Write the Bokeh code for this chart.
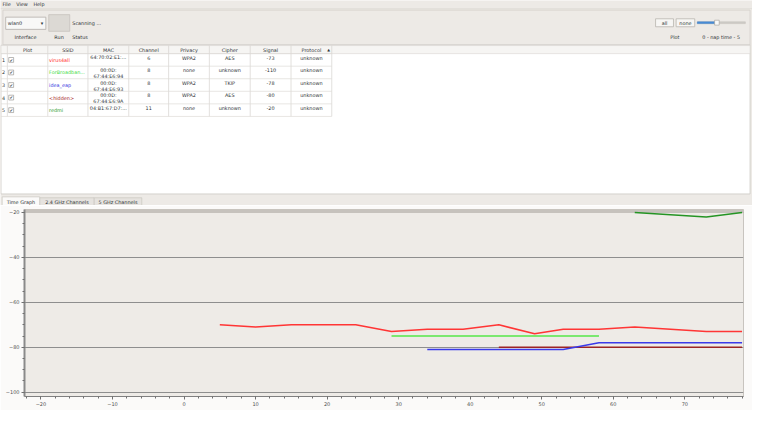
import numpy as np
from bokeh.plotting import figure
from bokeh.models import Range1d, FixedTicker, Span
from bokeh.layouts import column
from bokeh.embed import file_html
from bokeh.resources import INLINE
from bokeh.core.properties import value

# ---------------- data ----------------
menu_items = ["File", "View", "Help"]
interface_name = "wlan0"
status_text = "Scanning ..."
toolbar_labels = ["Interface", "Run", "Status"]
right_buttons = ["all", "none"]
right_labels = ["Plot", "0 - nap time - 5"]

columns_hdr = ["Plot", "SSID", "MAC", "Channel", "Privacy", "Cipher", "Signal", "Protocol"]
row_ids = ["1", "2", "3", "4", "5"]
ssids = ["virus4all", "ForBroadban...", "idea_eap", "<hidden>", "redmi"]
macs = [["64:70:02:E1:..."], ["00:0D:", "67:44:E6:94"], ["00:0D:", "67:44:E6:93"],
        ["00:0D:", "67:44:E6:9A"], ["04:B1:67:D7:..."]]
channels = ["6", "8", "8", "8", "11"]
privacy = ["WPA2", "none", "WPA2", "WPA2", "none"]
cipher = ["AES", "unknown", "TKIP", "AES", "unknown"]
signal = ["-73", "-110", "-78", "-80", "-20"]
protocol = ["unknown", "unknown", "unknown", "unknown", "unknown"]
tab_names = ["Time Graph", "2.4 GHz Channels", "5 GHz Channels"]

# time graph series (time, dBm)
virus_t = [5, 10, 15, 24, 29, 34, 39, 44, 49, 53, 58, 63, 73, 78]
virus_s = [-70, -71, -70, -70, -73, -72, -72, -70, -74, -72, -72, -71, -73, -73]
forb_t = [29, 34, 39, 44, 49, 53, 58]
forb_s = [-75, -75, -75, -75, -75, -75, -75]
idea_t = [34, 39, 44, 49, 53, 58, 63, 68, 73, 78]
idea_s = [-81, -81, -81, -81, -81, -78, -78, -78, -78, -78]
hidden_t = [44, 49, 53, 58, 63, 68, 73, 78]
hidden_s = [-80, -80, -80, -80, -80, -80, -80, -80]
redmi_t = [63, 73, 78]
redmi_s = [-20, -22, -20]

x_ticks = [-20, -10, 0, 10, 20, 30, 40, 50, 60, 70]
y_ticks = [-20, -40, -60, -80, -100]

# ---------------- styles ----------------
FONT = value("DejaVu Sans")
BG = "#edeae6"
PANE = "#fbfaf9"
PLOT_BG = "#eeebe7"
TXT = "#2e3436"
BORDER = "#cdc9c4"
series_colors = ["#ff3535", "#55e84a", "#3a3aea", "#9c2424", "#249424"]
ssid_colors = ["#ff2a2a", "#3ddc3d", "#3434e0", "#a52626", "#2e9e2e"]
FS = "4.9px"

W = 752
TOP_H = 205
BOT_H = 205

# ---------------- top (GUI chrome + table) ----------------
top = figure(width=W, height=TOP_H, x_range=Range1d(0, 768), y_range=Range1d(213, 0),
             output_backend="svg", toolbar_location=None, x_axis_location=None,
             y_axis_location=None, min_border=0)
top.frame_align = False
top.grid.visible = False
top.outline_line_color = None
top.background_fill_color = BG
top.border_fill_color = BG


def txt(fig, xs, ys, texts, align="left", color=TXT, size=FS, baseline="middle"):
    fig.text(x=xs, y=ys, text=texts, text_font=FONT, text_font_size=size,
             text_align=align, text_baseline=baseline, text_color=color)


def box(fig, l, r, t, b, fill, line, lw=0.8):
    fig.quad(left=l, right=r, top=t, bottom=b, fill_color=fill, line_color=line, line_width=lw)


# menu bar
txt(top, [2, 16, 33.6], [3.6, 3.6, 3.6], menu_items)
top.segment(x0=[0], y0=[8.5], x1=[768], y1=[8.5], line_color="#dedad5", line_width=0.8)
# group box
box(top, [2.5], [765.5], [10], [46], BG, "#d3cfca")
# combobox
box(top, [5.3], [46.3], [17.3], [30], "#f8f8f7", "#b3afa9")
txt(top, [7.3], [23.6], [interface_name])
txt(top, [42.5], [23.6], ["\u25be"], align="center", size="5px")
# run button
box(top, [49.3], [70.7], [14.7], [32], "#dcd9d4", "#c6c2bc")
txt(top, [73.3], [23.4], [status_text])
txt(top, [14.3, 55, 73.3], [38.4, 38.4, 38.4], toolbar_labels)
# right side
box(top, [669, 690], [687.3, 709], [19, 19], [27.3, 27.3], "#f7f6f4", "#b9b5af")
txt(top, [678.2, 699.5], [23.2, 23.2], right_buttons, align="center")
box(top, [711.7], [760.7], [22.2], [24], "#cfccc7", "#c0bcb7", 0.5)
box(top, [711.7], [731.5], [22.2], [24], "#4a8fd8", "#3d7fc8", 0.5)
box(top, [729.3], [734], [20.5], [25.6], "#fbfbfa", "#a9a59f", 0.7)
txt(top, [684, 716.7], [38.4, 38.4], right_labels)

# table
box(top, [0.5], [765.5], [46.5], [201], "#ffffff", BORDER)
col_edges = [7, 48.3, 89.3, 131, 171.7, 213.3, 255, 296.7, 338.3]
row_top0 = 55.2
row_h = 13.05
n_rows = len(ssids)
box(top, [0.5], [765.5], [46.8], [row_top0], "#f6f5f3", "#dcd8d3", 0.6)
table_bottom = row_top0 + n_rows * row_h
# vertical separators
top.segment(x0=col_edges, y0=[46.8] * len(col_edges), x1=col_edges,
            y1=[table_bottom] * len(col_edges), line_color="#d6d3ce", line_width=0.7)
# horizontal separators
row_lines = [row_top0 + i * row_h for i in range(n_rows + 1)]
top.segment(x0=[0.5] * len(row_lines), y0=row_lines, x1=[col_edges[-1]] * len(row_lines),
            y1=row_lines, line_color="#dedbd7", line_width=0.7)
centers = [(col_edges[i] + col_edges[i + 1]) / 2 for i in range(len(col_edges) - 1)]
txt(top, centers, [51.4] * len(centers), columns_hdr, align="center")
txt(top, [335], [51.4], ["\u25b2"], align="center", size="3.6px")

row_tops = [row_top0 + i * row_h for i in range(n_rows)]
row_mid = [t + row_h / 2 for t in row_tops]
txt(top, [3] * n_rows, row_mid, row_ids, align="center")
box(top, [8.4] * n_rows, [13.4] * n_rows, [m - 2.5 for m in row_mid], [m + 2.5 for m in row_mid],
    "#ffffff", "#8c8884", 0.6)
txt(top, [10.9] * n_rows, [m + 0.2 for m in row_mid], ["\u2714"] * n_rows, align="center", size="4.2px")
top.text(x=[col_edges[1] + 1.3] * n_rows, y=row_mid, text=ssids, text_font=FONT,
         text_font_size=FS, text_align="left", text_baseline="middle", text_color=ssid_colors)
# MAC (one or two lines)
mx, my, mt = [], [], []
for t, lines in zip(row_tops, macs):
    for j, s in enumerate(lines):
        mx.append(centers[2])
        my.append(t + 3.9 + j * 6.6)
        mt.append(s)
txt(top, mx, my, mt, align="center")
for ci, vals in zip([3, 4, 5, 6, 7], [channels, privacy, cipher, signal, protocol]):
    txt(top, [centers[ci]] * n_rows, [t + 4.3 for t in row_tops], vals, align="center")

# tabs
tab_l = [1.7, 40, 95.7]
tab_r = [40, 95.7, 144.3]
box(top, tab_l[1:], tab_r[1:], [205] * 2, [213.5] * 2, "#e6e3df", "#c9c5bf", 0.7)
box(top, [tab_l[0]], [tab_r[0]], [204], [213.5], PANE, "#c9c5bf", 0.7)
txt(top, [(a + b) / 2 for a, b in zip(tab_l, tab_r)], [209.3, 209.5, 209.5], tab_names, align="center")

# ---------------- bottom (time graph) ----------------
bot = figure(width=W, height=BOT_H, x_range=Range1d(-22.3, 78.2), y_range=Range1d(-101.9, -18.7),
             output_backend="svg", toolbar_location=None,
             min_border_left=24, min_border_right=9, min_border_top=4, min_border_bottom=14)
bot.frame_align = False
bot.background_fill_color = PLOT_BG
bot.border_fill_color = PANE
bot.outline_line_color = "#c8c4bf"

xminor = list(np.arange(-22, 79, 2))
yminor = list(np.arange(-100, -19, 5))
bot.xaxis.ticker = FixedTicker(ticks=x_ticks, minor_ticks=xminor)
bot.yaxis.ticker = FixedTicker(ticks=y_ticks, minor_ticks=yminor)
for ax in (bot.xaxis[0], bot.yaxis[0]):
    ax.major_label_text_font = "DejaVu Sans"
    ax.major_label_text_font_size = "5px"
    ax.major_label_text_color = "#505050"
    ax.major_tick_in = 0
    ax.major_tick_out = 3
    ax.minor_tick_in = 0
    ax.minor_tick_out = 2
    ax.major_tick_line_color = "#707070"
    ax.minor_tick_line_color = "#707070"
    ax.major_label_standoff = 2
bot.yaxis.axis_line_color = "#8a8a8a"
bot.yaxis.axis_line_width = 2
bot.xaxis.axis_line_color = "#808080"
bot.xaxis.axis_line_width = 1
bot.xgrid.visible = False
bot.ygrid.ticker = FixedTicker(ticks=y_ticks)
bot.ygrid.grid_line_color = "#8e8e8e"
bot.ygrid.grid_line_width = 1
bot.add_layout(Span(location=-19.5, dimension="width", line_color="#c6c2bd", line_width=3.5,
                    level="underlay"))

series = [(virus_t, virus_s), (forb_t, forb_s), (hidden_t, hidden_s), (idea_t, idea_s), (redmi_t, redmi_s)]
color_order = [series_colors[0], series_colors[1], series_colors[3], series_colors[2], series_colors[4]]
for (t, s), c in zip(series, color_order):
    bot.line(t, s, line_color=c, line_width=1.5)

p = column(top, bot, spacing=0)
open("out.html", "w").write(file_html(p, INLINE))
